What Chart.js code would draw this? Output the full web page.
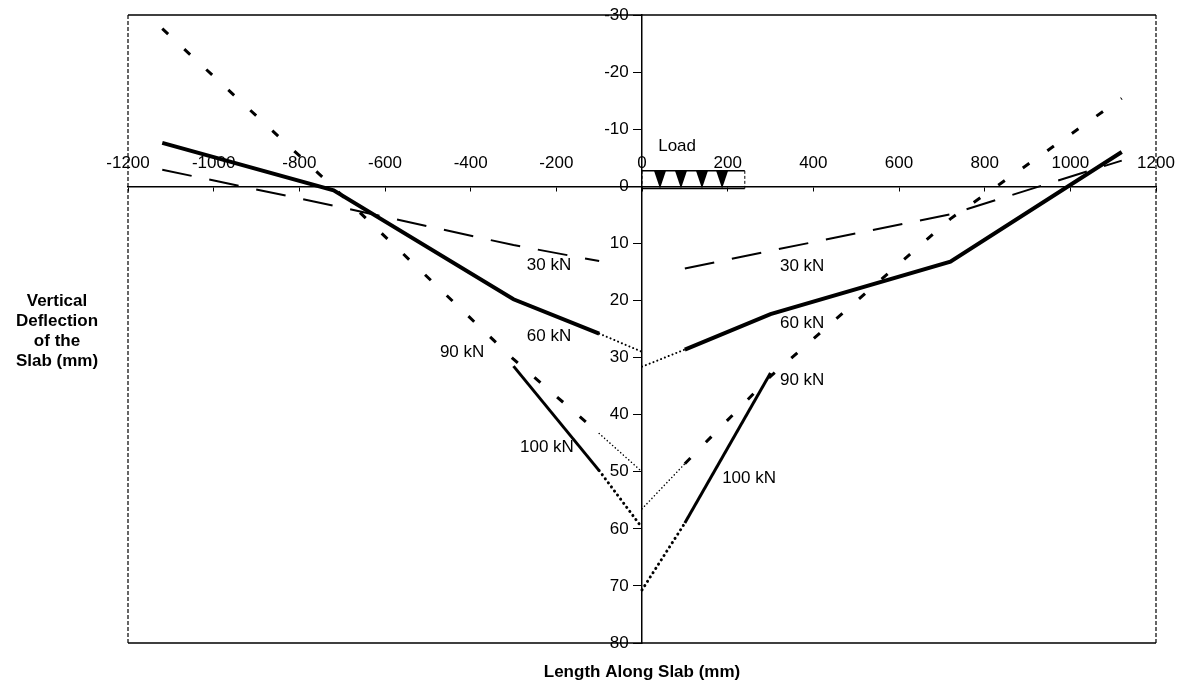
<!DOCTYPE html>
<html>
<head>
<meta charset="utf-8">
<script src="https://cdn.jsdelivr.net/npm/chart.js@4.4.1/dist/chart.umd.min.js"></script>
<style>
  html, body { margin: 0; padding: 0; background: #fff; }
  #wrap { width: 1183px; height: 690px; position: relative; }
</style>
</head>
<body>
<div id="wrap"><canvas id="grafico"></canvas></div>
<script>
// measurement positions along the slab (mm)
const xLeft = [-1120, -720, -300, -100];
const xRight = [100, 300, 720, 1120];

// vertical deflection (mm), positive = downwards
const kn30Left = [-2.9, 3.4, 10.3, 13.1];
const kn30Right = [14.4, 11.3, 4.9, -4.5];
const kn60Left = [-7.6, 0.7, 19.8, 25.8];
const kn60Right = [28.6, 22.4, 13.2, -6.0];
const kn90Left = [-27.6, 0.2, 30.3, 43.3];
const kn90Right = [48.6, 33.3, 5.7, -15.4];
const kn100LeftX = [-300, -100];
const kn100Left = [31.5, 49.8];
const kn100RightX = [100, 300];
const kn100Right = [59.0, 32.7];

// dotted extrapolation to the centre line
const extLeftX = [-100, 0];
const extRightX = [0, 100];
const ext60Left = [25.8, 29.0];
const ext60Right = [31.6, 28.6];
const ext90Left = [43.3, 50.0];
const ext90Right = [56.5, 48.6];
const ext100Left = [49.8, 59.8];
const ext100Right = [70.7, 59.0];

// load labels on the curves
const labelText = ["30 kN", "60 kN", "90 kN", "100 kN", "30 kN", "60 kN", "90 kN", "100 kN"];
const labelX = [-217, -217, -420, -222, 374, 374, 374, 250];
const labelY = [13.8, 26.3, 29.0, 45.7, 14.1, 24.0, 34.0, 51.2];

// load arrows
const cargaX = [42, 91, 140, 187];

const fonte = "'Liberation Sans', Arial, sans-serif";

function pontos(xs, ys) {
  return xs.map((x, i) => ({ x: x, y: ys[i] }));
}

function serie(nome, xs, ys, largura, tracos, ponta) {
  return {
    label: nome,
    data: pontos(xs, ys),
    borderColor: "#000",
    backgroundColor: "#000",
    borderWidth: largura,
    borderDash: tracos,
    borderCapStyle: ponta || "butt",
    pointRadius: 0,
    fill: false,
    tension: 0
  };
}

const decoracao = {
  id: "decoracao",
  afterDraw(chart) {
    const { ctx, chartArea: a, scales: { x, y } } = chart;
    ctx.save();
    ctx.strokeStyle = "#000";
    ctx.fillStyle = "#000";

    // moldura
    ctx.lineWidth = 1.5;
    ctx.beginPath();
    ctx.moveTo(a.left, a.top); ctx.lineTo(a.right, a.top);
    ctx.moveTo(a.left, a.bottom); ctx.lineTo(a.right, a.bottom);
    ctx.stroke();
    ctx.setLineDash([4, 2]);
    ctx.lineWidth = 1.2;
    ctx.beginPath();
    ctx.moveTo(a.left, a.top); ctx.lineTo(a.left, a.bottom);
    ctx.moveTo(a.right, a.top); ctx.lineTo(a.right, a.bottom);
    ctx.stroke();

    // simbolo da carga
    const x0 = x.getPixelForValue(0), x1 = x.getPixelForValue(240);
    const yTop = y.getPixelForValue(-2.7), yBot = y.getPixelForValue(0.4);
    ctx.setLineDash([3, 2]);
    ctx.lineWidth = 1;
    ctx.beginPath();
    ctx.moveTo(x0, yTop); ctx.lineTo(x0, yBot);
    ctx.moveTo(x1, yTop); ctx.lineTo(x1, yBot);
    ctx.stroke();
    ctx.setLineDash([]);
    ctx.lineWidth = 1.5;
    ctx.beginPath();
    ctx.moveTo(x0, yTop); ctx.lineTo(x1, yTop);
    ctx.moveTo(x0, yBot); ctx.lineTo(x1, yBot);
    ctx.stroke();
    cargaX.forEach(cx => {
      const px = x.getPixelForValue(cx);
      ctx.beginPath();
      ctx.moveTo(px - 6, yTop);
      ctx.lineTo(px + 6, yTop);
      ctx.lineTo(px, yBot);
      ctx.closePath();
      ctx.fill();
    });

    ctx.font = "17px " + fonte;
    ctx.textAlign = "center";
    ctx.textBaseline = "middle";
    ctx.fillText("Load", x.getPixelForValue(82), y.getPixelForValue(-7));

    // rotulos das cargas
    labelText.forEach((t, i) => {
      ctx.fillText(t, x.getPixelForValue(labelX[i]), y.getPixelForValue(labelY[i]));
    });

    // titulos dos eixos
    ctx.font = "bold 17px " + fonte;
    ["Vertical", "Deflection", "of the", "Slab (mm)"].forEach((t, i) => {
      ctx.fillText(t, 57, 301 + i * 20);
    });
    ctx.fillText("Length Along Slab (mm)", (a.left + a.right) / 2, 672);
    ctx.restore();
  }
};

function criarGrafico() {
  const ctx = document.getElementById("grafico").getContext("2d");
  new Chart(ctx, {
    type: "line",
    data: {
      datasets: [
        serie("30 kN", xLeft, kn30Left, 2, [30, 18]),
        serie("30 kN", xRight, kn30Right, 2, [30, 18]),
        serie("60 kN", xLeft, kn60Left, 4),
        serie("60 kN", xRight, kn60Right, 4),
        serie("90 kN", xLeft, kn90Left, 3, [8, 22]),
        serie("90 kN", xRight, kn90Right, 3, [8, 22]),
        serie("100 kN", kn100LeftX, kn100Left, 3),
        serie("100 kN", kn100RightX, kn100Right, 3),
        serie("60 kN ext", extLeftX, ext60Left, 2, [0.1, 4], "round"),
        serie("60 kN ext", extRightX, ext60Right, 2, [0.1, 4], "round"),
        serie("90 kN ext", extLeftX, ext90Left, 1.5, [0.1, 3.5], "round"),
        serie("90 kN ext", extRightX, ext90Right, 1.5, [0.1, 3.5], "round"),
        serie("100 kN ext", extLeftX, ext100Left, 3, [0.1, 5], "round"),
        serie("100 kN ext", extRightX, ext100Right, 3, [0.1, 5], "round")
      ]
    },
    options: {
      responsive: true,
      maintainAspectRatio: false,
      animation: false,
      layout: { padding: { left: 128, right: 27, top: 15, bottom: 47 } },
      plugins: { legend: { display: false }, tooltip: { enabled: false } },
      scales: {
        x: {
          type: "linear",
          min: -1200,
          max: 1200,
          position: { y: 0 },
          ticks: {
            stepSize: 200, color: "#000", font: { family: fonte, size: 17 },
            padding: -37, maxRotation: 0, autoSkip: false,
            callback: v => String(v)
          },
          grid: { drawOnChartArea: false, tickLength: 4, tickColor: "#000" },
          border: { color: "#000", width: 1.5 },
          afterFit: s => { s.height = 0; }
        },
        y: {
          type: "linear",
          reverse: true,
          min: -30,
          max: 80,
          position: { x: 0 },
          ticks: {
            stepSize: 10, color: "#000", font: { family: fonte, size: 17 },
            // espaco entre o rotulo e o eixo central
            callback: v => String(v) + "\u2002 "
          },
          grid: { drawOnChartArea: false, tickLength: 8, tickColor: "#000" },
          border: { color: "#000", width: 1.5 },
          afterFit: s => { s.width = 0; }
        }
      }
    },
    plugins: [decoracao]
  });
}

document.addEventListener("DOMContentLoaded", criarGrafico);
</script>
</body>
</html>
